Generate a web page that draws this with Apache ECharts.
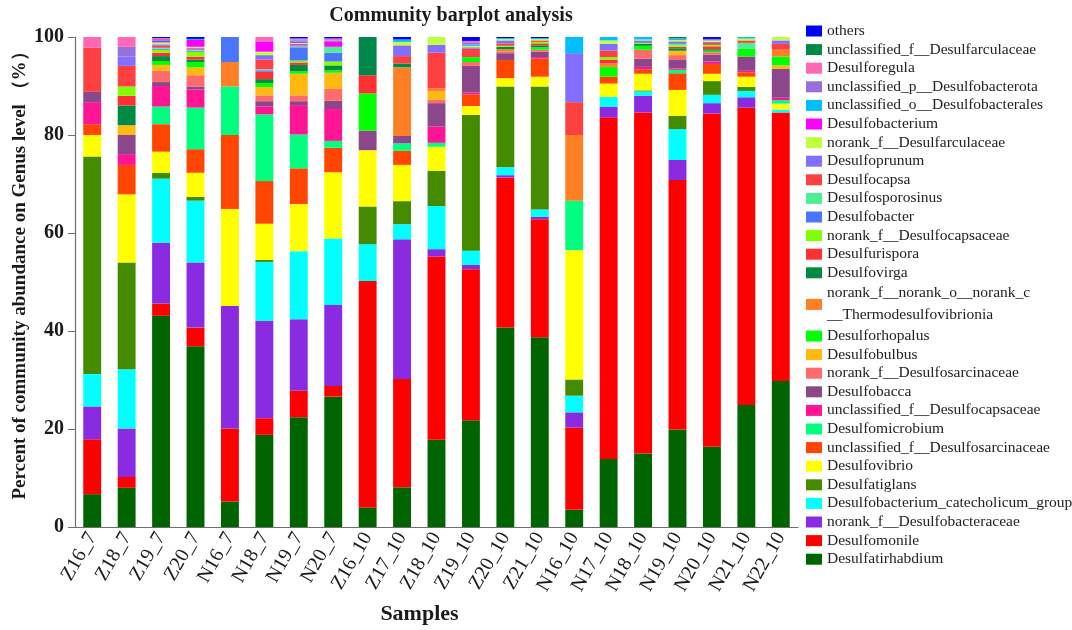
<!DOCTYPE html>
<html>
<head>
<meta charset="utf-8">
<script src="https://cdn.jsdelivr.net/npm/echarts/dist/echarts.min.js"></script>
<style>
  html, body { margin: 0; padding: 0; background: #ffffff; }
  #chart { width: 1072px; height: 630px; }
</style>
</head>
<body>
<div id="chart"></div>
<script>
// Samples along the x axis
const samples = ["Z16_7", "Z18_7", "Z19_7", "Z20_7", "N16_7", "N18_7", "N19_7", "N20_7",
  "Z16_10", "Z17_10", "Z18_10", "Z19_10", "Z20_10", "Z21_10", "N16_10", "N17_10",
  "N18_10", "N19_10", "N20_10", "N21_10", "N22_10"];

// Relative abundance (%) of each genus per sample, listed from the bottom of the stack upwards
const desulfatirhabdium = [6.7, 8.0, 43.1, 36.9, 5.2, 18.8, 22.4, 26.6, 4.0, 8.1, 17.8, 21.8, 40.7, 38.7, 3.5, 13.9, 15.0, 19.9, 16.4, 24.9, 29.8];
const desulfomonile = [11.2, 2.2, 2.5, 3.8, 14.9, 3.4, 5.4, 2.2, 46.2, 22.1, 37.4, 30.8, 30.6, 24.1, 16.8, 69.7, 69.6, 50.9, 68.0, 60.7, 54.8];
const norankDesulfobacteraceae = [6.7, 9.9, 12.4, 13.3, 25.0, 19.9, 14.6, 16.5, 0, 28.5, 1.5, 0.9, 0.5, 0.5, 3.1, 2.2, 3.4, 4.1, 2.1, 2.1, 0];
const catecholicumGroup = [6.6, 12.1, 13.1, 12.6, 0, 12.0, 13.9, 13.6, 7.5, 3.1, 8.8, 2.9, 1.6, 1.5, 3.4, 2.0, 0.9, 6.3, 1.7, 1.3, 0.6];
const desulfatiglans = [44.4, 21.8, 1.2, 0.8, 0, 0.4, 0, 0, 7.7, 4.7, 7.2, 27.7, 16.5, 25.1, 3.3, 0, 0.2, 2.7, 2.8, 0.8, 0];
const desulfovibrio = [4.4, 13.9, 4.3, 4.9, 19.8, 7.4, 9.6, 13.5, 11.5, 7.4, 4.9, 1.8, 1.7, 2.0, 26.4, 2.7, 3.4, 5.3, 1.5, 2.1, 1.2];
const unclDesulfosarcinaceae = [2.2, 6.0, 5.6, 4.8, 15.1, 8.7, 7.3, 5.0, 0, 2.9, 0, 2.4, 3.7, 3.7, 0, 1.4, 0.9, 3.4, 2.0, 0.9, 0];
const desulfomicrobium = [0, 0, 3.6, 8.5, 9.9, 13.6, 6.9, 1.4, 0, 1.5, 0.8, 0, 0, 0, 10.1, 0, 0, 0.7, 0, 0, 0.7];
const unclDesulfocapsaceae = [4.5, 2.2, 4.2, 3.7, 0, 1.6, 6.0, 6.5, 0, 0, 3.3, 0.4, 0, 0.3, 0, 0, 0.5, 0.3, 0.5, 0.3, 0.5];
const desulfobacca = [2.1, 3.9, 0.8, 0.6, 0, 1.1, 0.8, 1.7, 4.0, 1.5, 4.8, 5.4, 1.4, 1.1, 0, 0, 1.7, 1.7, 1.4, 2.9, 5.9];
const norankDesulfosarcinaceae = [0, 0, 2.3, 2.3, 0, 1.2, 1.2, 2.4, 0, 0, 0.7, 0.8, 0.3, 0.4, 0, 0, 1.8, 1.0, 0.5, 0, 0];
const desulfobulbus = [0, 2.0, 1.2, 1.6, 0, 1.7, 4.4, 3.3, 0, 0, 1.7, 0, 0, 0, 0, 0, 0, 0.9, 0, 0, 0.7];
const desulforhopalus = [0, 0, 0.8, 1.1, 0, 0.8, 0.5, 0.5, 7.6, 0, 0, 1.0, 0, 0.5, 0, 2.0, 0.8, 0, 0.3, 1.6, 1.8];
const thermodesulfovibrionia = [0, 0, 0, 0, 5.0, 0, 0, 0, 0, 14.0, 0.6, 0, 0.5, 0, 13.4, 0.7, 0, 0, 0, 0, 1.4];
const desulfovirga = [0, 4.0, 1.0, 0.5, 0, 0.8, 1.3, 1.0, 0, 0.8, 0, 0, 0.5, 0.4, 0, 0, 0.4, 0.5, 0.3, 0, 0];
const desulfurispora = [0, 2.0, 0.7, 0.6, 0, 1.5, 0.5, 0, 3.7, 0, 0, 0, 0, 0.4, 0, 0.8, 0, 0.3, 0.6, 0, 0];
const norankDesulfocapsaceae = [0, 1.9, 0.6, 1.0, 0, 0, 0.4, 0.8, 0, 0, 0, 0, 0.2, 0.3, 0, 0.5, 0.2, 0.3, 0.3, 0, 0];
const desulfobacter = [0, 0, 0.2, 0.2, 5.1, 0.3, 2.7, 1.8, 0, 0, 0, 0, 0, 0, 0, 0, 0, 0, 0, 0, 0];
const desulfosporosinus = [0, 0, 0.2, 0.2, 0, 0.2, 0.2, 1.2, 0, 0, 0, 0, 0, 0, 0, 0, 0, 0.3, 0, 1.2, 0];
const desulfocapsa = [9.0, 4.2, 0.4, 0.2, 0, 2.0, 0.2, 0, 0, 1.5, 7.3, 1.7, 0.5, 0.3, 6.7, 1.3, 0, 0, 0.4, 0.5, 1.2];
const desulfoprunum = [0, 1.9, 0.3, 0.2, 0, 0.9, 0.3, 0, 0, 2.2, 1.6, 0.3, 0.6, 0, 10.0, 1.4, 0.5, 0.5, 0.2, 0, 0.7];
const norankDesulfarculaceae = [0, 0, 0.4, 0.2, 0, 0.7, 0.2, 0, 0, 0.7, 1.6, 0.3, 0.3, 0.3, 0, 0.7, 0.2, 0.3, 0.3, 0.4, 0.7];
const desulfobacterium = [0, 0, 0.3, 1.4, 0, 2.1, 0.3, 1.0, 0, 0, 0, 0, 0, 0, 0, 0, 0, 0, 0, 0, 0];
const unclDesulfobacterales = [0, 0, 0.2, 0.2, 0, 0, 0.2, 0, 0, 0.5, 0, 0.3, 0.2, 0.2, 3.3, 0.7, 0.5, 0.2, 0, 0.3, 0];
const unclDesulfobacterota = [0, 2.0, 0.2, 0, 0, 0, 0.2, 0.3, 0, 0, 0, 0.3, 0, 0, 0, 0, 0, 0.1, 0.3, 0, 0];
const desulforegula = [2.2, 2.0, 0.2, 0, 0, 0.9, 0.2, 0.4, 0, 0, 0, 0.4, 0, 0, 0, 0, 0, 0, 0, 0, 0];
const unclDesulfarculaceae = [0, 0, 0, 0, 0, 0, 0, 0, 7.8, 0, 0, 0, 0, 0, 0, 0, 0, 0.3, 0, 0, 0];
const others = [0, 0, 0.2, 0.4, 0, 0, 0.3, 0.3, 0, 0.5, 0, 0.8, 0.2, 0.2, 0, 0, 0, 0, 0.4, 0, 0];

// [genus name, values, fill colour], bottom of the stack first
const genera = [
  ["Desulfatirhabdium", desulfatirhabdium, "#006400"],
  ["Desulfomonile", desulfomonile, "#FF0000"],
  ["norank_f__Desulfobacteraceae", norankDesulfobacteraceae, "#8A2BE2"],
  ["Desulfobacterium_catecholicum_group", catecholicumGroup, "#00FFFF"],
  ["Desulfatiglans", desulfatiglans, "#458B00"],
  ["Desulfovibrio", desulfovibrio, "#FFFF00"],
  ["unclassified_f__Desulfosarcinaceae", unclDesulfosarcinaceae, "#FF4500"],
  ["Desulfomicrobium", desulfomicrobium, "#00FF7F"],
  ["unclassified_f__Desulfocapsaceae", unclDesulfocapsaceae, "#FF1493"],
  ["Desulfobacca", desulfobacca, "#8B4789"],
  ["norank_f__Desulfosarcinaceae", norankDesulfosarcinaceae, "#FF6A6A"],
  ["Desulfobulbus", desulfobulbus, "#FFB90F"],
  ["Desulforhopalus", desulforhopalus, "#00FF00"],
  ["norank_f__norank_o__norank_c__Thermodesulfovibrionia", thermodesulfovibrionia, "#FF7F24"],
  ["Desulfovirga", desulfovirga, "#008B45"],
  ["Desulfurispora", desulfurispora, "#FF3030"],
  ["norank_f__Desulfocapsaceae", norankDesulfocapsaceae, "#7FFF00"],
  ["Desulfobacter", desulfobacter, "#4876FF"],
  ["Desulfosporosinus", desulfosporosinus, "#4EEE94"],
  ["Desulfocapsa", desulfocapsa, "#FF4040"],
  ["Desulfoprunum", desulfoprunum, "#836FFF"],
  ["norank_f__Desulfarculaceae", norankDesulfarculaceae, "#C0FF3E"],
  ["Desulfobacterium", desulfobacterium, "#FF00FF"],
  ["unclassified_o__Desulfobacterales", unclDesulfobacterales, "#00BFFF"],
  ["unclassified_p__Desulfobacterota", unclDesulfobacterota, "#9370DB"],
  ["Desulforegula", desulforegula, "#FF69B4"],
  ["unclassified_f__Desulfarculaceae", unclDesulfarculaceae, "#00874A"],
  ["others", others, "#0000FF"]
];

const serif = '"Liberation Serif", "Times New Roman", "DejaVu Serif", serif';
const ink = '#1a1a1a';
const axisGrey = '#6e6e6e';

const titleText = 'Community barplot analysis';
const titleFont = 'bold 20px ' + serif;
const measure = document.createElement('canvas').getContext('2d');
measure.font = titleFont;
const titleWidth = measure.measureText(titleText).width;

const chart = echarts.init(document.getElementById('chart'), null, { renderer: 'canvas' });

// Legend lists the top of the stack first; the long Thermodesulfovibrionia name wraps onto two lines
const legendNames = genera.map(g => g[0]).reverse().map(name =>
  name.indexOf('Thermodesulfovibrionia') >= 0
    ? { name: name, textStyle: { lineHeight: 22 } }
    : name
);

chart.setOption({
  animation: false,
  backgroundColor: '#ffffff',
  title: {
    text: titleText,
    left: 451 - titleWidth / 2,
    top: 6,
    padding: 0,
    textStyle: { fontFamily: serif, fontWeight: 'bold', fontSize: 20, color: ink }
  },
  legend: {
    orient: 'vertical',
    left: 806,
    top: 22,
    padding: 0,
    itemWidth: 16,
    itemHeight: 11,
    itemGap: 0.6,
    icon: 'rect',
    selectedMode: false,
    data: legendNames,
    formatter: name => name.replace('norank_c__', 'norank_c\n__'),
    textStyle: { fontFamily: serif, fontSize: 15.5, lineHeight: 18, color: '#222222' }
  },
  grid: { left: 75, right: 274, top: 37, bottom: 103, containLabel: false, outerBoundsMode: 'none' },
  xAxis: {
    type: 'category',
    data: samples,
    name: 'Samples',
    nameLocation: 'middle',
    nameGap: 76,
    nameMoveOverlap: false,
    nameTextStyle: { fontFamily: serif, fontWeight: 'bold', fontSize: 22, color: ink, padding: [0, 34, 0, 0] },
    axisLine: { lineStyle: { color: axisGrey, width: 1.2 } },
    axisTick: { alignWithLabel: true, length: 6, lineStyle: { color: axisGrey } },
    axisLabel: { interval: 0, rotate: 60, margin: 7, fontFamily: serif, fontSize: 20, color: ink }
  },
  yAxis: {
    type: 'value',
    min: 0,
    max: 100,
    interval: 20,
    name: 'Percent of community abundance on Genus level （%）',
    nameLocation: 'middle',
    nameGap: 45,
    nameMoveOverlap: false,
    nameTextStyle: { fontFamily: serif, fontWeight: 'bold', fontSize: 19, color: ink, padding: [0, 0, 0, 22] },
    axisLine: { show: true, lineStyle: { color: axisGrey, width: 1.2 } },
    axisTick: { show: true, length: 7, lineStyle: { color: axisGrey } },
    splitLine: { show: false },
    axisLabel: { margin: 11, fontFamily: serif, fontWeight: 'bold', fontSize: 20, color: ink }
  },
  series: genera.map(([name, values, color]) => ({
    name: name,
    type: 'bar',
    stack: 'abundance',
    barWidth: '52%',
    data: values,
    itemStyle: { color: color },
    emphasis: { disabled: true }
  }))
});
</script>
</body>
</html>
